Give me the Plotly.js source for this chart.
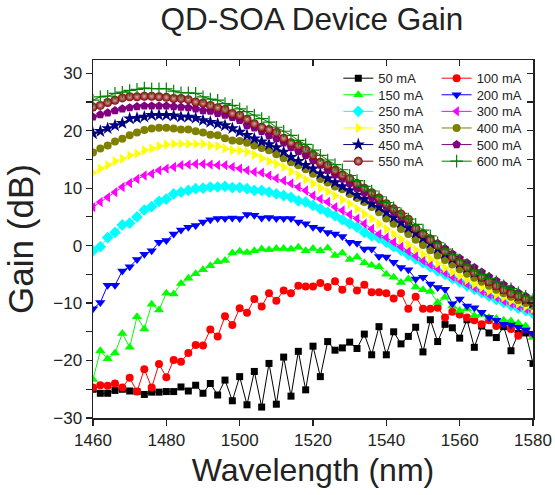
<!DOCTYPE html>
<html><head><meta charset="utf-8">
<script src="https://cdn.plot.ly/plotly-3.0.1.min.js"></script>
<style>html,body{margin:0;padding:0;background:#fff}#chart{width:555px;height:495px}</style>
</head><body><div id="chart"></div>
<script>
const wavelength = [1460,1462,1464,1466,1468,1470,1472,1474,1476,1478,1480,1482,1484,1486,1488,1490,1492,1494,1496,1498,1500,1502,1504,1506,1508,1510,1512,1514,1516,1518,1520,1522,1524,1526,1528,1530,1532,1534,1536,1538,1540,1542,1544,1546,1548,1550,1552,1554,1556,1558,1560,1562,1564,1566,1568,1570,1572,1574,1576,1578,1580];

const gain50 = [-25.0,-25.7,-25.7,-25.2,-25.0,-25.3,-25.4,-25.9,-25.5,-25.5,-25.4,-25.4,-24.6,-25.3,-24.3,-25.7,-24.0,-26.0,-23.4,-27.0,-22.8,-27.7,-21.9,-28.1,-20.5,-27.6,-19.4,-26.2,-18.4,-25.1,-17.5,-22.8,-16.7,-18.2,-17.8,-16.8,-17.9,-15.4,-19.0,-14.1,-19.0,-15.0,-17.1,-15.8,-14.2,-18.5,-12.9,-16.7,-13.7,-14.3,-16.1,-12.9,-17.7,-14.0,-15.2,-16.0,-14.1,-18.3,-15.3,-15.2,-20.5];
const gain100 = [-24.7,-24.3,-24.4,-24.0,-24.7,-23.0,-25.4,-21.5,-24.7,-20.6,-22.9,-19.9,-20.2,-18.7,-17.3,-17.4,-14.6,-15.8,-12.3,-13.8,-10.9,-11.7,-9.3,-10.6,-8.3,-9.6,-7.8,-8.3,-7.0,-7.1,-7.1,-6.5,-7.2,-6.2,-7.7,-6.2,-7.8,-6.8,-8.1,-8.1,-8.3,-9.2,-8.3,-11.0,-8.9,-11.0,-11.0,-10.8,-12.5,-11.5,-12.0,-12.5,-13.0,-13.7,-13.0,-14.0,-13.5,-14.5,-15.7,-14.5,-15.5];
const gain150 = [-23.3,-18.3,-19.7,-18.7,-15.3,-17.7,-12.4,-14.5,-10.2,-11.2,-8.3,-8.4,-6.6,-5.7,-4.9,-4.2,-3.5,-2.8,-2.6,-1.3,-1.0,-1.2,-0.9,-0.6,-0.7,-0.5,-0.5,-0.6,-0.3,-0.9,-0.5,-0.9,-0.4,-1.7,-1.3,-2.4,-2.0,-3.0,-3.4,-3.7,-5.0,-5.5,-6.4,-5.8,-7.2,-7.7,-8.0,-9.9,-9.0,-10.5,-11.3,-11.0,-12.2,-12.0,-12.5,-12.7,-13.0,-13.1,-13.5,-14.0,-16.0];
const gain200 = [-11.0,-9.9,-6.9,-6.9,-4.4,-3.7,-2.4,-1.5,-0.9,0.6,0.9,2.0,2.7,3.2,3.5,4.1,4.5,4.7,4.7,4.8,4.7,5.4,5.3,4.8,4.9,4.7,4.7,4.7,4.1,3.8,3.2,2.9,2.3,2.0,1.6,0.6,0.4,-0.6,-0.6,-1.9,-2.0,-2.9,-3.8,-4.2,-5.8,-5.5,-6.7,-7.3,-7.6,-10.1,-9.3,-10.5,-10.8,-11.6,-12.5,-13.0,-13.7,-13.8,-14.2,-14.7,-15.4];
const gain250 = [-0.9,-0.2,1.4,2.3,3.6,3.9,5.0,6.2,6.8,7.7,8.1,9.0,9.3,9.6,9.9,10.0,10.2,10.2,10.3,10.1,10.1,9.9,9.6,9.6,9.3,9.0,8.7,8.4,7.8,7.6,7.0,6.4,5.8,5.2,4.5,3.8,3.2,2.3,1.7,1.3,0.6,-0.2,-0.8,-1.6,-2.3,-3.0,-3.7,-4.4,-5.0,-5.7,-6.3,-7.0,-7.6,-8.2,-8.8,-9.4,-9.9,-10.4,-10.9,-11.3,-11.8];
const gain300 = [6.7,7.6,8.4,9.3,10.2,10.9,11.6,12.2,12.5,13.1,13.4,13.7,14.0,14.1,14.2,14.2,14.1,14.0,14.0,13.7,13.4,13.1,12.8,12.7,12.2,11.7,11.3,10.8,10.2,9.6,8.7,8.1,7.6,6.7,6.1,5.4,4.7,3.8,2.9,2.0,1.4,0.6,-0.2,-1.0,-1.8,-2.6,-3.3,-4.0,-4.7,-5.4,-6.0,-6.7,-7.3,-7.9,-8.5,-9.0,-9.6,-10.1,-10.6,-11.0,-11.5];
const gain350 = [12.7,13.4,14.0,14.7,15.1,15.7,16.0,16.6,16.9,17.3,17.6,17.7,17.7,17.7,17.7,17.7,17.4,17.3,16.9,16.6,16.5,16.3,15.8,15.2,14.7,14.2,13.7,12.9,12.2,11.5,10.8,10.0,9.4,8.7,8.0,7.3,6.4,5.5,4.7,3.8,2.9,2.0,1.1,0.2,-0.7,-1.5,-2.3,-3.1,-3.9,-4.6,-5.3,-6.0,-6.7,-7.3,-7.9,-8.5,-9.0,-9.6,-10.1,-10.6,-11.0];
const gain400 = [16.2,16.9,17.4,18.1,18.6,19.2,19.7,20.1,20.4,20.5,20.5,20.4,20.2,20.2,19.9,19.7,19.3,19.2,18.7,18.3,18.2,17.9,17.4,17.0,16.6,15.9,15.2,14.5,14.0,13.3,12.5,11.6,11.0,10.3,9.8,9.0,8.3,7.6,6.7,5.8,4.7,3.8,2.9,2.0,1.0,0.1,-0.8,-1.7,-2.5,-3.3,-4.1,-4.9,-5.6,-6.3,-7.0,-7.7,-8.3,-8.9,-9.5,-10.0,-10.5];
const gain450 = [19.5,19.9,20.4,20.9,21.3,22.1,22.2,22.4,22.7,22.7,22.7,22.6,22.4,22.4,22.2,21.8,21.5,21.2,20.9,20.4,19.8,19.2,18.6,18.1,17.6,17.1,16.3,15.4,14.7,14.0,13.4,12.5,11.7,11.0,10.3,9.6,8.8,8.1,7.3,6.7,5.8,4.9,4.0,3.1,2.2,1.3,0.4,-0.5,-1.4,-2.3,-3.1,-3.9,-4.7,-5.4,-6.1,-6.8,-7.5,-8.2,-8.8,-9.4,-10.0];
const gain500 = [22.4,22.8,23.1,23.5,23.8,24.0,24.2,24.3,24.3,24.3,24.3,24.2,24.1,24.0,23.8,23.5,23.4,23.0,22.7,22.3,21.8,20.9,20.5,19.9,19.2,18.6,17.9,17.1,16.4,15.7,14.8,14.0,13.1,12.3,11.6,10.8,9.9,9.2,8.3,7.6,6.7,5.8,4.9,4.0,3.1,2.2,1.3,0.4,-0.5,-1.4,-2.2,-3.0,-3.8,-4.6,-5.4,-6.1,-6.8,-7.5,-8.2,-8.8,-9.5];
const gain550 = [24.1,24.4,24.9,25.3,25.7,25.9,25.9,26.0,26.0,25.9,25.8,25.6,25.6,25.4,25.0,24.8,24.4,24.0,23.7,23.0,22.7,22.0,21.2,20.6,20.2,19.7,18.7,17.9,17.4,16.7,15.8,14.5,14.0,13.1,12.3,11.7,10.8,10.0,9.2,8.3,7.3,6.4,5.5,4.6,3.0,2.0,1.0,0.0,-1.0,-2.0,-2.9,-3.8,-4.7,-5.5,-6.3,-7.0,-7.7,-8.3,-8.8,-9.3,-9.8];
const gain600 = [25.3,25.9,26.0,26.5,26.7,27.0,27.2,27.4,27.3,27.3,27.3,26.9,26.6,26.6,26.5,25.9,25.5,25.3,24.7,24.4,23.8,23.3,22.7,22.1,21.5,20.6,19.9,19.2,18.3,17.6,16.6,15.7,14.9,14.1,13.2,12.2,11.3,10.3,9.5,8.5,7.5,6.6,5.6,4.6,3.7,2.7,1.7,0.5,-0.6,-1.5,-2.5,-3.4,-4.4,-5.0,-5.7,-6.3,-7.0,-7.5,-8.2,-8.8,-9.4];

const seriesNames = ['50 mA','100 mA','150 mA','200 mA','250 mA','300 mA','350 mA','400 mA','450 mA','500 mA','550 mA','600 mA'];
const seriesGains = [gain50,gain100,gain150,gain200,gain250,gain300,gain350,gain400,gain450,gain500,gain550,gain600];
const seriesColors = ['#000000','#ff0000','#00ff00','#0000ff','#00ffff','#ff00ff','#ffff00','#808000','#000080','#800080','#800000','#008000'];
const seriesSymbols = ['square','circle','triangle-up','triangle-down','diamond','triangle-left','triangle-right','circle','star','pentagon','circle','cross-thin'];
const seriesSizes = [7,8,9,9,9,9,9,8,10,9,9,9];

const traces = seriesNames.map((name, i) => {
  const m = {symbol: seriesSymbols[i], size: seriesSizes[i], color: seriesColors[i], line: {width: 0}};
  if (seriesSymbols[i] === 'cross-thin') m.line = {width: 1.2, color: seriesColors[i]};
  if (name === '550 mA') m.gradient = {type: 'radial', color: '#d8a8a8'};
  return {
    type: 'scatter', mode: 'lines+markers', name: name,
    legend: (i % 2 === 0) ? 'legend' : 'legend2',
    x: wavelength, y: seriesGains[i],
    line: {color: seriesColors[i], width: 1},
    marker: m
  };
});
traces.push({type:'scatter', x:[], y:[], xaxis:'x2', yaxis:'y2', showlegend:false, hoverinfo:'skip'});

const FONT = 'Liberation Sans, Arial, sans-serif';
const legendBase = {orientation: 'v', xanchor: 'left', yanchor: 'top', yref: 'paper', xref: 'paper',
  font: {size: 13, family: FONT, color: '#222'}, bgcolor: 'rgba(0,0,0,0)', borderwidth: 0, itemwidth: 30, traceorder: 'normal'};
const layout = {
  width: 555, height: 495,
  margin: {l: 93, r: 22, t: 60, b: 77},
  paper_bgcolor: '#fff', plot_bgcolor: '#fff',
  font: {family: FONT, color: '#222', size: 17},
  title: {text: 'QD-SOA Device Gain', font: {size: 31.5, family: FONT, color: '#222'}, xref: 'container', yref: 'container', x: 0.562, xanchor: 'center', y: 0.962, yanchor: 'middle'},
  xaxis: {
    range: [1460, 1580], tick0: 1460, dtick: 20, ticks: 'outside', ticklen: 6, tickwidth: 1.2, tickcolor: '#222',
    showline: true, linecolor: '#222', linewidth: 1.5, showgrid: false, zeroline: false,
    tickfont: {size: 17, family: FONT, color: '#222'},
    title: {text: 'Wavelength (nm)', font: {size: 32, family: FONT, color: '#222'}, standoff: 9}
  },
  yaxis: {
    range: [-30, 32.3], tick0: -30, dtick: 10, ticks: 'outside', ticklen: 6, tickwidth: 1.2, tickcolor: '#222',
    minor: {dtick: 5, tick0: -30, ticks: 'outside', ticklen: 6, tickwidth: 1.2, tickcolor: '#222', showgrid: false},
    showline: true, linecolor: '#222', linewidth: 1.5, showgrid: false, zeroline: false,
    tickfont: {size: 17, family: FONT, color: '#222'},
    title: {text: 'Gain (dB)', font: {size: 35, family: FONT, color: '#222'}, standoff: 9}
  },
  xaxis2: {overlaying: 'x', side: 'top', anchor: 'y2', range: [1460, 1580], tick0: 1460, dtick: 20, ticks: 'inside', ticklen: 6, tickwidth: 1.2, tickcolor: '#222', showticklabels: false, showline: true, linecolor: '#222', linewidth: 1.5, showgrid: false, zeroline: false},
  yaxis2: {overlaying: 'y', side: 'right', anchor: 'x2', range: [-30, 32.3], tick0: -30, dtick: 5, ticks: 'inside', ticklen: 6, tickwidth: 1.2, tickcolor: '#222', showticklabels: false, showline: true, linecolor: '#222', linewidth: 1.5, showgrid: false, zeroline: false},
  showlegend: true,
  legend: Object.assign({}, legendBase, {x: 0.5575, y: 0.991}),
  legend2: Object.assign({}, legendBase, {x: 0.781, y: 0.991})
};

const ROW_STEP = 16.6;
Plotly.newPlot('chart', traces, layout, {displayModeBar: false, staticPlot: true}).then(gd => {
  ['legend', 'legend2'].forEach(id => {
    const g = gd.querySelector('g.' + id);
    if (!g) return;
    const items = g.querySelectorAll('g.traces');
    let x0 = null, y0 = null;
    items.forEach((it, k) => {
      const tr = it.getAttribute('transform') || '';
      const m = tr.match(/translate\(\s*([-\d.e]+)[ ,]+([-\d.e]+)\s*\)/);
      if (!m) return;
      if (k === 0) { x0 = parseFloat(m[1]); y0 = parseFloat(m[2]); }
      it.setAttribute('transform', 'translate(' + x0 + ',' + (y0 + k * ROW_STEP) + ')');
    });
  });
});
</script></body></html>
